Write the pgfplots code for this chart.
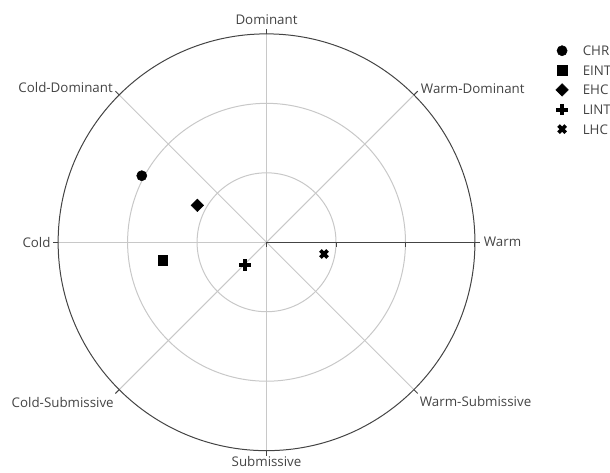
\documentclass[border=0pt]{standalone}
\usepackage{pgfplots}
\pgfplotsset{compat=1.18}
\usepackage{fontspec}
\setmainfont{Open Sans}
\definecolor{gridc}{HTML}{C8C8C8}
\definecolor{axc}{HTML}{444444}
\definecolor{txt}{HTML}{444444}
\begin{document}
\begin{tikzpicture}
\path[use as bounding box] (0,0) rectangle (457.5pt,354pt);
\begin{axis}[
  at={(199.9pt,172.3pt)}, anchor=center,
  x=52.1pt, y=52.1pt,
  xmin=-3, xmax=3, ymin=-3, ymax=3,
  enlargelimits=false,
  axis lines=none, clip=false,
  font=\fontsize{10}{12}\selectfont,
  legend style={at={(1.1883,0.978)}, anchor=north west, draw=none, fill=none,
    inner sep=0pt, outer sep=0pt, row sep=3.2pt,
    font=\fontsize{10}{12}\selectfont, text=txt,
    nodes={text height=7.5pt, text depth=0pt},
    /tikz/every odd column/.append style={column sep=7pt}},
  legend cell align=left,
  legend image code/.code={\path[draw=none,fill=none] (0pt,-4pt) rectangle (13pt,4pt); \draw[mark repeat=2,mark phase=2,#1] plot coordinates {(0pt,0pt)(6.5pt,0pt)(13pt,0pt)};},
]
% grid circles
\draw[gridc, line width=0.75pt] (axis cs:0,0) circle[radius=52.1pt];
\draw[gridc, line width=0.75pt] (axis cs:0,0) circle[radius=104.2pt];
% spokes
\draw[gridc, line width=0.75pt] (axis cs:-3,0) -- (axis cs:0,0);
\draw[gridc, line width=0.75pt] (axis cs:0,-3) -- (axis cs:0,3);
\draw[gridc, line width=0.75pt] (axis cs:-2.1213,-2.1213) -- (axis cs:2.1213,2.1213);
\draw[gridc, line width=0.75pt] (axis cs:-2.1213,2.1213) -- (axis cs:2.1213,-2.1213);
% outer circle
\draw[axc, line width=0.75pt] (axis cs:0,0) circle[radius=156.3pt];
% radial axis
\draw[axc, line width=0.9pt] (axis cs:0,0) -- (axis cs:3,0);
\pgfplotsinvokeforeach{0,1,2,3}{\draw[axc, line width=0.75pt] (axis cs:#1,0) -- (axis cs:#1,-0.07);}
% angular ticks
\pgfplotsinvokeforeach{0,45,90,135,180,225,270,315}{\draw[axc, line width=0.75pt] (axis cs:0,0) ++(#1:156.3pt) -- ++(#1:4pt);}
% labels
\node[txt, anchor=base, inner sep=0pt] at ([yshift=6.75pt]axis cs:0,3) {Dominant};
\node[txt, anchor=north, inner sep=0pt] at ([yshift=-4.2pt]axis cs:0,-3) {Submissive};
\node[txt, anchor=east, inner sep=0pt] at ([xshift=-5.5pt]axis cs:-3,0) {Cold};
\node[txt, anchor=west, inner sep=0pt] at ([xshift=6.5pt]axis cs:3,0) {Warm};
\node[txt, anchor=east, inner sep=0pt] at ([xshift=-4.6pt,yshift=5.3pt]axis cs:-2.1213,2.1213) {Cold-Dominant};
\node[txt, anchor=west, inner sep=0pt] at ([xshift=5.1pt,yshift=4.6pt]axis cs:2.1213,2.1213) {Warm-Dominant};
\node[txt, anchor=east, inner sep=0pt] at ([xshift=-3.9pt,yshift=-9.6pt]axis cs:-2.1213,-2.1213) {Cold-Submissive};
\node[txt, anchor=west, inner sep=0pt] at ([xshift=4.3pt,yshift=-9.2pt]axis cs:2.1213,-2.1213) {Warm-Submissive};
% data
\addplot[only marks, mark=*, mark size=3.8pt, black] coordinates {(-1.796,0.958)};
\addlegendentry{CHR}
\addplot[only marks, mark=square*, mark size=3.7pt, black] coordinates {(-1.494,-0.255)};
\addlegendentry{EINT}
\addplot[only marks, mark=square*, mark size=3.3pt, black, mark options={rotate=45}] coordinates {(-0.996,0.532)};
\addlegendentry{EHC}
\addplot[only marks, mark=+, mark size=4.3pt, black, mark options={line width=3pt}] coordinates {(-0.309,-0.327)};
\addlegendentry{LINT}
\addplot[only marks, mark=x, mark size=3.8pt, black, mark options={line width=2.8pt}] coordinates {(0.827,-0.168)};
\addlegendentry{LHC}
\end{axis}
\end{tikzpicture}
\end{document}
